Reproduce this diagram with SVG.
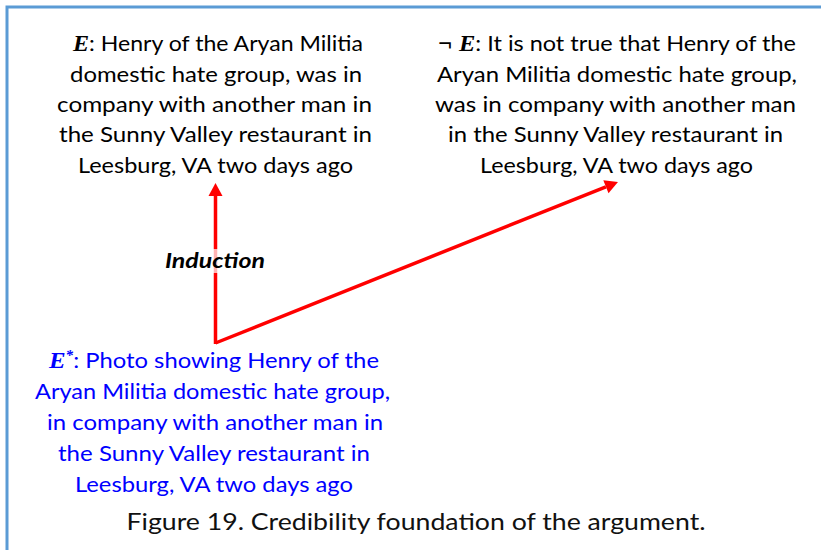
<svg xmlns="http://www.w3.org/2000/svg" width="821" height="550" viewBox="0 0 821 550">
<defs>
<style>
.t{font-family:"Lato","Open Sans","Liberation Sans",sans-serif;font-size:22px;text-anchor:middle;fill:#000}
.b{fill:#0000ff}
.m{font-family:"Liberation Serif","DejaVu Serif",serif;font-weight:bold;font-style:italic}
.cap{font-family:"Lato","Open Sans","Liberation Sans",sans-serif;font-size:23px;text-anchor:middle;fill:#111}
.lbl{font-family:"Lato","Open Sans","Liberation Sans",sans-serif;font-size:21px;font-weight:bold;font-style:italic;text-anchor:middle;fill:#000}
.arr{stroke:#ff0000;stroke-width:3.5;fill:none}
</style>
<marker id="ah" markerUnits="userSpaceOnUse" markerWidth="14" markerHeight="14" refX="0" refY="7" orient="auto" overflow="visible">
<path d="M0,0 L13,7 L0,14 z" fill="#ff0000"/>
</marker>
</defs>
<rect x="0" y="0" width="821" height="550" fill="#fff"/>
<rect x="7" y="7" width="830" height="560" fill="none" stroke="#5b9bd5" stroke-width="3"/>
<g id="connectors">
<line class="arr" x1="215.5" y1="344" x2="215.5" y2="196" marker-end="url(#ah)"/>
<line class="arr" x1="215.5" y1="343" x2="605.9" y2="186.8" marker-end="url(#ah)"/>
</g>
<g id="induction">
<rect x="211" y="249" width="9" height="24" fill="#fff" fill-opacity="0.7"/>
<text class="lbl" x="215" y="268" textLength="100" lengthAdjust="spacingAndGlyphs">Induction</text>
</g>
<g id="nodeE">
<text class="t" y="51"><tspan x="218" textLength="290" lengthAdjust="spacingAndGlyphs"><tspan class="m" font-size="23">E</tspan>: Henry of the Aryan Militia</tspan></text>
<text class="t" x="216" y="81.5" textLength="292" lengthAdjust="spacingAndGlyphs">domestic hate group, was in</text>
<text class="t" x="214.5" y="112" textLength="315" lengthAdjust="spacingAndGlyphs">company with another man in</text>
<text class="t" x="215.5" y="142" textLength="313" lengthAdjust="spacingAndGlyphs">the Sunny Valley restaurant in</text>
<text class="t" x="215.5" y="172.5" textLength="275" lengthAdjust="spacingAndGlyphs">Leesburg, VA two days ago</text>
</g>
<g id="nodeNotE">
<text class="t" y="51"><tspan x="617" textLength="358" lengthAdjust="spacingAndGlyphs"><tspan class="m" font-size="23">¬ E</tspan>: It is not true that Henry of the</tspan></text>
<text class="t" x="617" y="81.5" textLength="360" lengthAdjust="spacingAndGlyphs">Aryan Militia domestic hate group,</text>
<text class="t" x="615.5" y="112" textLength="361" lengthAdjust="spacingAndGlyphs">was in company with another man</text>
<text class="t" x="615.5" y="142" textLength="335" lengthAdjust="spacingAndGlyphs">in the Sunny Valley restaurant in</text>
<text class="t" x="616.5" y="172.5" textLength="273" lengthAdjust="spacingAndGlyphs">Leesburg, VA two days ago</text>
</g>
<g id="nodeEstar">
<text class="t b" y="368"><tspan x="214" textLength="330" lengthAdjust="spacingAndGlyphs"><tspan class="m" font-size="23">E</tspan><tspan class="m" font-weight="normal" font-style="normal" font-size="14" dy="-8">*</tspan><tspan dy="8">: Photo showing Henry of the</tspan></tspan></text>
<text class="t b" x="212.5" y="399" textLength="355" lengthAdjust="spacingAndGlyphs">Aryan Militia domestic hate group,</text>
<text class="t b" x="215" y="430" textLength="336" lengthAdjust="spacingAndGlyphs">in company with another man in</text>
<text class="t b" x="214" y="461" textLength="312" lengthAdjust="spacingAndGlyphs">the Sunny Valley restaurant in</text>
<text class="t b" x="214" y="492" textLength="278" lengthAdjust="spacingAndGlyphs">Leesburg, VA two days ago</text>
</g>
<text class="cap" x="416" y="530" textLength="579" lengthAdjust="spacingAndGlyphs">Figure 19. Credibility foundation of the argument.</text>
</svg>
